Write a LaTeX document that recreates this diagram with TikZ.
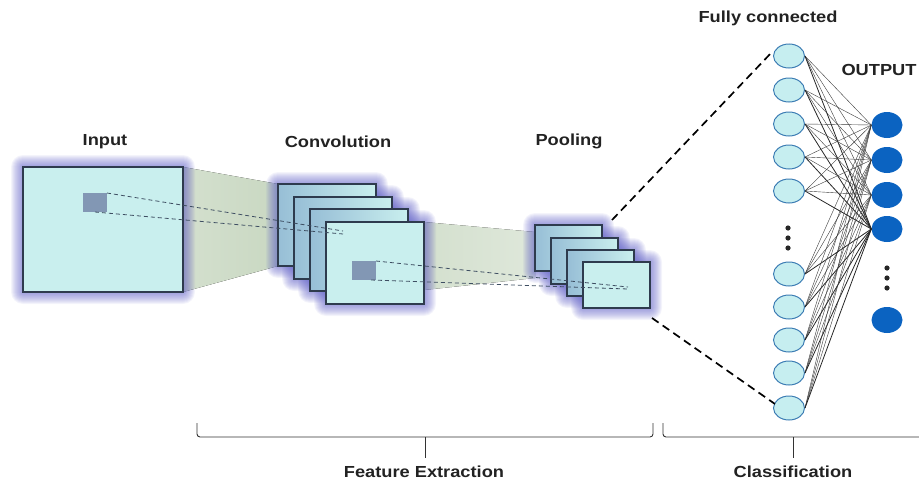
\documentclass[tikz,border=0pt]{standalone}
\usepackage{fontspec}
\usepackage{graphicx}
\setmainfont{Liberation Sans}
\usetikzlibrary{shapes.geometric,calc}

\definecolor{frameedge}{HTML}{2E3B4E}
\definecolor{mapfill}{HTML}{C9EFEE}
\definecolor{mapback}{HTML}{97BED6}
\definecolor{glowc}{HTML}{5A5AC4}
\definecolor{bandc}{HTML}{C9D8C2}
\definecolor{patchc}{HTML}{8297B4}
\definecolor{fcfill}{HTML}{C6EEF0}
\definecolor{fcedge}{HTML}{3D7DB4}
\definecolor{outfill}{HTML}{0B63C1}
\definecolor{linkc}{HTML}{3A3A3A}
\definecolor{guide}{HTML}{3E4E62}
\definecolor{labelc}{HTML}{222222}

\pgfdeclarelayer{bands}
\pgfdeclarelayer{glows}
\pgfsetlayers{bands,glows,main}

\newcommand{\stretchtext}[1]{\scalebox{1.14}[1]{#1}}
% soft halo around a feature map
\newcommand{\halo}[1]{%
  \foreach \g in {1,...,12}{%
    \fill[glowc, opacity=0.065, rounded corners=\g pt]
      ([xshift=-\g pt, yshift=\g pt]#1.north west) rectangle
      ([xshift=\g pt, yshift=-\g pt]#1.south east);}}

\tikzset{
  fmap/.style={draw=frameedge, line width=1.1pt, fill=mapfill, anchor=north west,
    inner sep=0pt, outer sep=0pt, rectangle},
  backmap/.style={fmap, left color=mapback, right color=mapfill},
  convmap/.style={minimum width=98pt, minimum height=82pt},
  poolmap/.style={minimum width=67pt, minimum height=46pt},
  patch/.style={fill=patchc, anchor=north west, inner sep=0pt, outer sep=0pt,
    minimum width=24pt, minimum height=19pt},
  lbl/.style={text=labelc, font=\fontsize{16}{19}\selectfont\bfseries, inner sep=0pt},
  guideline/.style={draw=guide, line width=0.8pt, dash pattern=on 4pt off 3pt},
  zoomline/.style={draw=black, line width=1.7pt, dash pattern=on 8pt off 5pt},
  fcnode/.style={ellipse, draw=fcedge, line width=1pt, fill=fcfill,
    minimum width=31pt, minimum height=24pt, inner sep=0pt},
  outnode/.style={ellipse, fill=outfill, minimum width=31pt, minimum height=26pt,
    inner sep=0pt},
  link/.style={draw=linkc, line width=0.4pt},
  strong link/.style={draw=black!85, line width=0.8pt},
  brace/.style={draw=black!80, line width=0.9pt, rounded corners=3pt},
  dot/.style={fill=black!85}
}

\begin{document}
\begin{tikzpicture}[x=1pt, y=-1pt]
\useasboundingbox (0,0) rectangle (919,482);

% ---------- input image ----------
\node[fmap, minimum width=160pt, minimum height=125pt] (in) at (23,167) {};
\node[patch] (ip) at (83,193) {};

% ---------- convolution feature maps ----------
\node[backmap, convmap] (c1) at (278,184) {};
\node[backmap, convmap] (c2) at (294,197) {};
\node[backmap, convmap] (c3) at (310,209) {};
\node[fmap, convmap] (c4) at (326,222) {};
\node[patch] (cp) at (352,261) {};

% ---------- pooled feature maps ----------
\node[backmap, poolmap] (p1) at (535,225) {};
\node[backmap, poolmap] (p2) at (551,238) {};
\node[backmap, poolmap] (p3) at (567,250) {};
\node[fmap, poolmap] (p4) at (583,262) {};

% halos behind the maps
\begin{pgfonlayer}{glows}
  \halo{in}
  \foreach \m in {c1,c2,c3,c4,p1,p2,p3,p4}{\halo{\m}}
\end{pgfonlayer}

% receptive-field bands between the stages
\coordinate (bt) at (424,222);
\coordinate (bb) at (424,290);
\coordinate (pt) at (535,232);
\coordinate (pb) at (535,278);
\begin{pgfonlayer}{bands}
  \fill[left color=bandc!80!white, right color=bandc]
    (in.north east) -- (c1.north west) -- (c1.south west) -- (in.south east) -- cycle;
  \fill[left color=bandc!80!white, right color=bandc!60!white]
    (bt) -- (pt) -- (pb) -- (bb) -- cycle;
\end{pgfonlayer}

% receptive-field guide lines
\coordinate (cin1) at (343,231);
\coordinate (cin2) at (343,234);
\coordinate (pin1) at (628,287);
\coordinate (pin2) at (628,289);
\draw[guideline] (ip.north east) -- (cin1);
\draw[guideline] (ip.south) -- (cin2);
\draw[guideline] (cp.north east) -- (pin1);
\draw[guideline] ([xshift=-5pt]cp.south east) -- (pin2);

% ---------- fully connected layer ----------
\foreach \i/\y in {1/56,2/90,3/124,4/157,5/191,6/274,7/307,8/340,9/373,10/408}{
  \node[fcnode] (l\i) at (789,\y) {};}
\foreach \j/\y in {1/125,2/160,3/195,4/229,5/320}{
  \node[outnode] (o\j) at (887,\y) {};}

\foreach \i in {1,...,10}{
  \foreach \j in {1,2,3}{\draw[link] (l\i.east) -- (o\j.west);}
  \draw[strong link] (l\i.east) -- (o4.west);}

\foreach \y in {228,238,248}{\fill[dot] (788,\y) circle (2.6pt);}
\foreach \y in {268,278,288}{\fill[dot] (887,\y) circle (2.6pt);}

% zoom lines from the pooled maps to the dense layer
\coordinate (zt) at (612,220);
\coordinate (zb) at (652,318);
\draw[zoomline] (zt) -- ([xshift=-1pt,yshift=4pt]l1.west);
\draw[zoomline] (zb) -- ([xshift=2pt,yshift=4pt]l10.west);

% ---------- stage braces ----------
\draw[brace] (197,423) -- (197,437) -- (653,437) -- (653,423);
\draw[black!80, line width=0.9pt] (425,437) -- (425,458);
\draw[brace] (663,423) -- (663,437) -- (925,437);
\draw[black!80, line width=0.9pt] (793,437) -- (793,458);

% ---------- labels ----------
\node[lbl] (tin) at (105,142) {\stretchtext{Input}};
\node[lbl] (tconv) at (338,142) {\stretchtext{Convolution}};
\node[lbl] (tpool) at (569,141) {\stretchtext{Pooling}};
\node[lbl] (tfc) at (768,18) {\stretchtext{Fully connected}};
\node[lbl] (tout) at (879,70) {\stretchtext{OUTPUT}};
\node[lbl] (tfe) at (424,472) {\stretchtext{Feature Extraction}};
\node[lbl] (tcl) at (793,472) {\stretchtext{Classification}};
\end{tikzpicture}
\end{document}
